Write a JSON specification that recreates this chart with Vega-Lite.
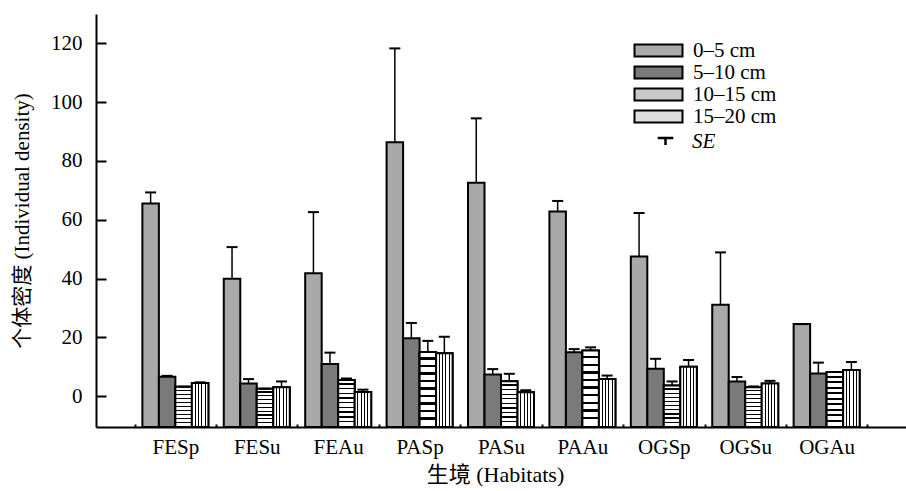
{
  "$schema": "https://vega.github.io/schema/vega-lite/v6.json",
  "width": 810,
  "height": 413,
  "autosize": "none",
  "padding": {"left": 96, "top": 14, "right": 0, "bottom": 64},
  "background": "white",
  "config": {
    "view": {"stroke": null},
    "font": "Liberation Serif"
  },
  "data": {
    "values": [
      {"habitat": "FESp", "depth": "0–5 cm", "mean": 65.5, "upper": 69.3},
      {"habitat": "FESp", "depth": "5–10 cm", "mean": 6.6, "upper": 6.9},
      {"habitat": "FESp", "depth": "10–15 cm", "mean": 3.2, "upper": 3.2},
      {"habitat": "FESp", "depth": "15–20 cm", "mean": 4.5, "upper": 4.7},
      {"habitat": "FESu", "depth": "0–5 cm", "mean": 39.9, "upper": 50.7},
      {"habitat": "FESu", "depth": "5–10 cm", "mean": 4.3, "upper": 5.8},
      {"habitat": "FESu", "depth": "10–15 cm", "mean": 2.5, "upper": 2.5},
      {"habitat": "FESu", "depth": "15–20 cm", "mean": 3.0, "upper": 5.0},
      {"habitat": "FEAu", "depth": "0–5 cm", "mean": 41.8, "upper": 62.6},
      {"habitat": "FEAu", "depth": "5–10 cm", "mean": 10.9, "upper": 14.8},
      {"habitat": "FEAu", "depth": "10–15 cm", "mean": 5.5, "upper": 6.0},
      {"habitat": "FEAu", "depth": "15–20 cm", "mean": 1.4, "upper": 2.2},
      {"habitat": "PASp", "depth": "0–5 cm", "mean": 86.4, "upper": 118.3},
      {"habitat": "PASp", "depth": "5–10 cm", "mean": 19.7, "upper": 24.9},
      {"habitat": "PASp", "depth": "10–15 cm", "mean": 15.0, "upper": 18.8},
      {"habitat": "PASp", "depth": "15–20 cm", "mean": 14.6, "upper": 20.2},
      {"habitat": "PASu", "depth": "0–5 cm", "mean": 72.6, "upper": 94.5},
      {"habitat": "PASu", "depth": "5–10 cm", "mean": 7.4, "upper": 9.2},
      {"habitat": "PASu", "depth": "10–15 cm", "mean": 5.1, "upper": 7.6},
      {"habitat": "PASu", "depth": "15–20 cm", "mean": 1.3, "upper": 2.0},
      {"habitat": "PAAu", "depth": "0–5 cm", "mean": 62.8, "upper": 66.4},
      {"habitat": "PAAu", "depth": "5–10 cm", "mean": 14.9, "upper": 16.0},
      {"habitat": "PAAu", "depth": "10–15 cm", "mean": 15.5, "upper": 16.6},
      {"habitat": "PAAu", "depth": "15–20 cm", "mean": 5.8, "upper": 7.0},
      {"habitat": "OGSp", "depth": "0–5 cm", "mean": 47.5, "upper": 62.3},
      {"habitat": "OGSp", "depth": "5–10 cm", "mean": 9.3, "upper": 12.7},
      {"habitat": "OGSp", "depth": "10–15 cm", "mean": 3.6, "upper": 5.0},
      {"habitat": "OGSp", "depth": "15–20 cm", "mean": 10.0, "upper": 12.3},
      {"habitat": "OGSu", "depth": "0–5 cm", "mean": 31.1, "upper": 48.9},
      {"habitat": "OGSu", "depth": "5–10 cm", "mean": 5.0, "upper": 6.5},
      {"habitat": "OGSu", "depth": "10–15 cm", "mean": 3.0, "upper": 3.3},
      {"habitat": "OGSu", "depth": "15–20 cm", "mean": 4.3, "upper": 5.2},
      {"habitat": "OGAu", "depth": "0–5 cm", "mean": 24.5, "upper": 24.5},
      {"habitat": "OGAu", "depth": "5–10 cm", "mean": 7.7, "upper": 11.4},
      {"habitat": "OGAu", "depth": "10–15 cm", "mean": 8.2, "upper": 8.2},
      {"habitat": "OGAu", "depth": "15–20 cm", "mean": 8.9, "upper": 11.6}
    ]
  },
  "encoding": {
    "x": {
      "field": "habitat",
      "type": "nominal",
      "sort": null,
      "scale": {"paddingInner": 0, "paddingOuter": 0.475},
      "axis": {
        "title": "生境 (Habitats)",
        "titleFont": "Liberation Serif, Noto Sans CJK SC",
        "titleFontSize": 22,
        "titleFontWeight": "normal",
        "titleColor": "black",
        "titlePadding": 7,
        "titleX": 399,
        "labelAngle": 0,
        "labelFont": "Liberation Serif",
        "labelFontSize": 21,
        "labelColor": "black",
        "labelPadding": 12,
        "tickBand": "extent",
        "tickSize": -3,
        "tickWidth": 2,
        "tickColor": "black",
        "domainColor": "black",
        "domainWidth": 2,
        "grid": false
      }
    },
    "xOffset": {
      "field": "depth",
      "type": "nominal",
      "scale": {"domain": ["0–5 cm", "5–10 cm", "10–15 cm", "15–20 cm"], "paddingInner": 0, "paddingOuter": 0.467}
    }
  },
  "layer": [
    {
      "mark": {"type": "bar", "stroke": "black", "strokeWidth": 2},
      "encoding": {
        "y": {
          "field": "mean",
          "type": "quantitative",
          "scale": {"domain": [-10.5, 130], "nice": false, "zero": false},
          "axis": {
            "values": [0, 10, 20, 30, 40, 50, 60, 70, 80, 90, 100, 110, 120, 130],
            "labelExpr": "datum.value % 20 === 0 && datum.value <= 120 ? datum.label : ''",
            "tickSize": {"condition": {"test": "datum.value % 20 === 0 && datum.value <= 120", "value": -10}, "value": -6},
            "tickWidth": 2,
            "tickColor": "black",
            "domainColor": "black",
            "domainWidth": 2,
            "labelFont": "Liberation Serif",
            "labelFontSize": 21,
            "labelColor": "black",
            "labelPadding": 24,
            "grid": false,
            "title": "个体密度 (Individual density)",
            "titleFont": "Liberation Serif, Noto Sans CJK SC",
            "titleFontSize": 21,
            "titleFontWeight": "normal",
            "titleColor": "black",
            "titlePadding": 18
          }
        },
        "y2": {"datum": -10.5},
        "fill": {
          "field": "depth",
          "type": "nominal",
          "scale": {
            "domain": ["0–5 cm", "5–10 cm", "10–15 cm", "15–20 cm"],
            "range": ["#a9a9a9", "#7a7a7a", "#c8c8c8", "#dedede"]
          },
          "legend": {
            "title": null,
            "orient": "none",
            "legendX": 552,
            "legendY": 26,
            "padding": 0,
            "symbolType": "M-4,-1H4V1H-4Z",
            "symbolSize": 144,
            "symbolStrokeColor": "black",
            "symbolStrokeWidth": 2,
            "symbolOpacity": 1,
            "labelOffset": 24,
            "labelFont": "Liberation Serif",
            "labelFontSize": 21,
            "labelColor": "black",
            "rowPadding": 0,
            "encode": {
              "symbols": {
                "update": {
                  "stroke": {"value": "black"},
                  "strokeWidth": {"value": 2}
                }
              }
            }
          }
        }
      }
    },
    {
      "transform": [{"filter": "datum.depth === '10–15 cm'"}],
      "mark": {
        "type": "bar",
        "stroke": "black",
        "strokeWidth": 2,
        "fill": {"gradient": "linear", "x1": 0, "y1": 0, "x2": 0, "y2": 1, "stops": [
          {"offset": 0, "color": "#ffffff"},
          {"offset": 0.07, "color": "#ffffff"}, {"offset": 0.07, "color": "#000000"}, {"offset": 0.1, "color": "#000000"}, {"offset": 0.1, "color": "#ffffff"},
          {"offset": 0.17, "color": "#ffffff"}, {"offset": 0.17, "color": "#000000"}, {"offset": 0.2, "color": "#000000"}, {"offset": 0.2, "color": "#ffffff"},
          {"offset": 0.27, "color": "#ffffff"}, {"offset": 0.27, "color": "#000000"}, {"offset": 0.3, "color": "#000000"}, {"offset": 0.3, "color": "#ffffff"},
          {"offset": 0.37, "color": "#ffffff"}, {"offset": 0.37, "color": "#000000"}, {"offset": 0.4, "color": "#000000"}, {"offset": 0.4, "color": "#ffffff"},
          {"offset": 0.47, "color": "#ffffff"}, {"offset": 0.47, "color": "#000000"}, {"offset": 0.5, "color": "#000000"}, {"offset": 0.5, "color": "#ffffff"},
          {"offset": 0.57, "color": "#ffffff"}, {"offset": 0.57, "color": "#000000"}, {"offset": 0.6, "color": "#000000"}, {"offset": 0.6, "color": "#ffffff"},
          {"offset": 0.67, "color": "#ffffff"}, {"offset": 0.67, "color": "#000000"}, {"offset": 0.7, "color": "#000000"}, {"offset": 0.7, "color": "#ffffff"},
          {"offset": 0.77, "color": "#ffffff"}, {"offset": 0.77, "color": "#000000"}, {"offset": 0.8, "color": "#000000"}, {"offset": 0.8, "color": "#ffffff"},
          {"offset": 0.87, "color": "#ffffff"}, {"offset": 0.87, "color": "#000000"}, {"offset": 0.9, "color": "#000000"}, {"offset": 0.9, "color": "#ffffff"},
          {"offset": 1, "color": "#ffffff"}
        ]}
      },
      "encoding": {
        "y": {"field": "mean", "type": "quantitative"},
        "y2": {"datum": -10.5}
      }
    },
    {
      "transform": [{"filter": "datum.depth === '15–20 cm'"}],
      "mark": {
        "type": "bar",
        "stroke": "black",
        "strokeWidth": 2,
        "fill": {"gradient": "linear", "x1": 0, "y1": 0, "x2": 1, "y2": 0, "stops": [
          {"offset": 0, "color": "#ffffff"},
          {"offset": 0.17, "color": "#ffffff"}, {"offset": 0.17, "color": "#000000"}, {"offset": 0.23, "color": "#000000"}, {"offset": 0.23, "color": "#ffffff"},
          {"offset": 0.37, "color": "#ffffff"}, {"offset": 0.37, "color": "#000000"}, {"offset": 0.43, "color": "#000000"}, {"offset": 0.43, "color": "#ffffff"},
          {"offset": 0.57, "color": "#ffffff"}, {"offset": 0.57, "color": "#000000"}, {"offset": 0.63, "color": "#000000"}, {"offset": 0.63, "color": "#ffffff"},
          {"offset": 0.77, "color": "#ffffff"}, {"offset": 0.77, "color": "#000000"}, {"offset": 0.83, "color": "#000000"}, {"offset": 0.83, "color": "#ffffff"},
          {"offset": 1, "color": "#ffffff"}
        ]}
      },
      "encoding": {
        "y": {"field": "mean", "type": "quantitative"},
        "y2": {"datum": -10.5}
      }
    },
    {
      "mark": {"type": "rule", "strokeWidth": 1.5},
      "encoding": {
        "y": {"field": "mean", "type": "quantitative"},
        "y2": {"field": "upper"},
        "stroke": {
          "datum": "SE",
          "scale": {"range": ["black"]},
          "legend": {
            "title": null,
            "orient": "none",
            "legendX": 559,
            "legendY": 117,
            "padding": 0,
            "symbolType": "M-1.3,-0.6H1.3M0,-0.6V0.6",
            "symbolSize": 144,
            "symbolStrokeWidth": 2.5,
            "labelOffset": 16,
            "labelFont": "Liberation Serif",
            "labelFontSize": 21,
            "labelFontStyle": "italic",
            "labelColor": "black"
          }
        }
      }
    },
    {
      "mark": {"type": "tick", "orient": "horizontal", "size": 11, "thickness": 2, "color": "black", "opacity": 1},
      "encoding": {
        "y": {"field": "upper", "type": "quantitative"}
      }
    }
  ]
}
